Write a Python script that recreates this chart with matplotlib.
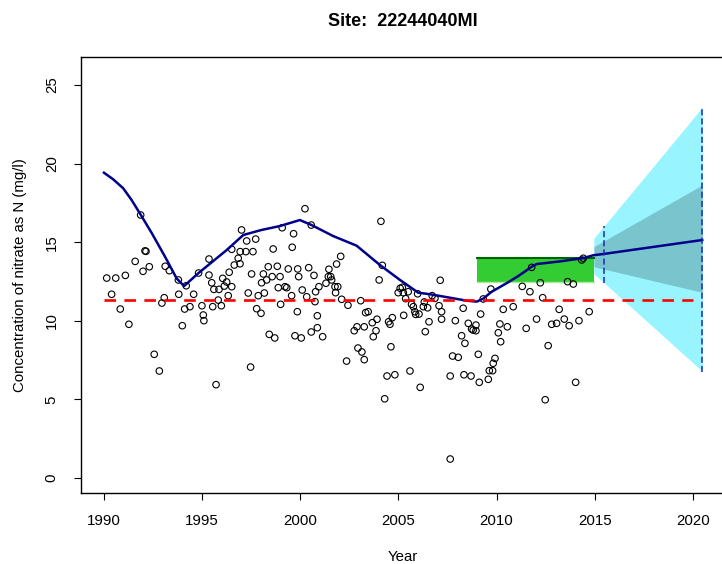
import matplotlib
matplotlib.use('Agg')
import matplotlib.pyplot as plt

plt.rcParams['font.family'] = ['Liberation Sans', 'DejaVu Sans']

site = '22244040MI'

# observed nitrate samples (year, mg/l)
obs_year = [
    1991.87, 1992.14, 1992.09, 1991.59, 1992.31, 1991.99, 1990.14, 1990.60, 1991.09, 1993.12,
    1993.33, 1993.79, 1994.19, 1994.82, 1990.39, 1993.07, 1992.95, 1993.81, 1994.57, 1990.83,
    1991.27, 1994.11, 1994.38, 1994.99, 1993.99, 1995.06, 1995.09, 1992.56, 1992.82,
    2000.24, 1997.01, 1997.27, 1997.73, 1999.08, 1999.66, 2000.56, 1995.35, 1996.51, 1996.94,
    1997.23, 1997.59, 1996.84, 1996.64, 1996.93, 1998.62, 1999.59, 1996.38, 1995.35, 1996.05,
    1995.49, 1996.25, 1995.60, 1995.86, 1996.13, 1996.51, 1997.52, 1998.12, 1998.37, 1998.83,
    1999.39, 1999.87, 2000.43, 1998.03, 1998.29, 1998.57, 1998.97, 1999.92, 2000.70, 1998.88,
    1999.22, 1999.31, 1999.56, 2000.10, 2000.33, 2000.78, 2000.95, 1996.33, 1997.35, 1997.86,
    1998.17, 1995.82, 1995.54, 1995.98, 1999.00, 2000.75, 1997.78, 1998.00, 1999.85, 2000.87,
    1998.42, 1998.70, 1999.73, 2000.05, 2000.56, 2000.87, 1997.47, 1995.71,
    2004.11, 2004.18, 2004.02, 2002.06, 2001.85, 2001.46, 2001.43, 2001.55, 2001.60, 2001.31,
    2001.77, 2001.91, 2001.80, 2002.11, 2003.08, 2002.43, 2001.14, 2003.33, 2003.46, 2003.91,
    2003.67, 2002.89, 2002.75, 2003.26, 2003.86, 2003.72, 2004.69, 2004.50, 2004.57, 2004.62,
    2002.94, 2003.14, 2003.26, 2002.36, 2004.42, 2004.82, 2005.59, 2006.11, 2004.30, 2005.09,
    2005.20, 2004.99, 2005.25, 2005.50, 2005.37, 2005.98, 2005.67, 2005.76, 2005.84, 2006.05,
    2005.88, 2005.27, 2006.32, 2006.27, 2006.49, 2006.56, 2006.37, 2006.72,
    2007.13, 2009.71, 2009.32, 2006.86, 2007.07, 2007.20, 2007.20, 2008.30, 2009.19, 2007.90,
    2008.56, 2008.95, 2008.73, 2008.81, 2008.95, 2008.22, 2008.39, 2007.76, 2008.05, 2009.07,
    2007.64, 2008.34, 2008.70, 2009.12, 2009.92, 2009.83, 2009.63, 2009.80, 2009.58, 2010.34,
    2010.85, 2010.17, 2010.55, 2010.09, 2010.21, 2011.31, 2011.70, 2012.23, 2012.35, 2011.79,
    2012.04, 2011.51, 2012.63, 2012.48, 2007.64,
    2014.42, 2014.34, 2013.62, 2013.91, 2013.19, 2014.72, 2013.45, 2014.20, 2012.81, 2013.06,
    2013.70, 2014.03,
]
obs_conc = [
    16.73, 14.42, 14.45, 13.78, 13.44, 13.15, 12.72, 12.72, 12.89, 13.47,
    13.19, 12.60, 12.23, 13.04, 11.69, 11.47, 11.13, 11.69, 11.69, 10.75,
    9.78, 10.75, 10.90, 10.96, 9.69, 10.37, 10.01, 7.87, 6.81,
    17.13, 15.78, 15.08, 15.20, 15.92, 15.54, 16.09, 13.93, 14.55, 14.40,
    14.40, 14.40, 13.98, 13.55, 13.63, 14.57, 14.68, 13.09, 12.91, 12.70,
    12.42, 12.47, 12.00, 12.00, 12.21, 12.17, 12.98, 12.98, 13.44, 13.47,
    13.30, 13.30, 13.38, 12.42, 12.60, 12.81, 12.81, 12.81, 12.89, 12.11,
    12.17, 12.11, 11.60, 11.96, 11.53, 11.85, 12.17, 11.60, 11.77, 11.60,
    11.77, 11.32, 10.90, 10.96, 11.05, 11.22, 10.77, 10.48, 10.58, 10.32,
    9.14, 8.91, 9.05, 8.91, 9.29, 9.56, 7.06, 5.94,
    16.33, 13.53, 12.60, 14.10, 13.61, 13.28, 12.81, 12.81, 12.60, 12.39,
    12.17, 12.17, 11.79, 11.37, 11.28, 10.99, 8.99, 10.52, 10.58, 10.10,
    9.88, 9.62, 9.37, 9.62, 9.37, 8.99, 10.20, 9.94, 9.78, 8.35,
    8.27, 8.02, 7.53, 7.44, 6.49, 6.57, 6.81, 5.77, 5.04, 12.07,
    12.13, 11.79, 11.79, 11.85, 11.41, 11.72, 11.05, 10.90, 10.58, 10.43,
    10.41, 10.35, 11.20, 10.90, 10.83, 9.94, 9.31, 11.60,
    12.58, 12.02, 11.39, 11.43, 10.96, 10.58, 10.10, 10.80, 10.43, 10.01,
    9.84, 9.73, 9.48, 9.41, 9.37, 9.05, 8.57, 7.76, 7.68, 7.87,
    6.49, 6.57, 6.49, 6.09, 7.61, 7.30, 6.83, 6.83, 6.28, 10.73,
    10.90, 9.80, 9.62, 9.24, 8.67, 12.19, 11.85, 12.42, 11.47, 13.40,
    10.11, 9.52, 8.42, 4.98, 1.21,
    13.98, 13.87, 12.49, 12.34, 10.73, 10.58, 10.11, 10.01, 9.78, 9.84,
    9.69, 6.09,
]

# smoothed trend
trend_year = [1990.00, 1990.47, 1990.98, 1991.41, 1991.88, 1992.43, 1993.11, 1993.70, 1994.08,
              1994.80, 1996.25, 1997.10, 1998.03, 1998.97, 1999.98, 2000.58, 2001.68, 2002.87,
              2004.06, 2005.08, 2006.01, 2006.61, 2007.63, 2008.48, 2008.99, 2009.32, 2009.75,
              2010.51, 2011.11, 2011.79, 2012.04, 2013.23, 2014.42, 2014.93, 2015.44, 2020.48]
trend_conc = [19.42, 19.00, 18.43, 17.68, 16.73, 15.59, 14.08, 12.70, 12.21,
              13.02, 14.50, 15.46, 15.78, 16.03, 16.41, 16.09, 15.39, 14.78,
              13.55, 12.60, 11.79, 11.69, 11.47, 11.28, 11.22, 11.41, 11.85,
              12.39, 12.85, 13.44, 13.61, 13.78, 13.99, 14.17, 14.25, 15.14]

# forecast bands
fc_year = [2014.96, 2020.48]
fc_outer_hi = [15.25, 23.58]
fc_outer_lo = [13.00, 6.80]
fc_inner_hi = [14.72, 18.64]
fc_inner_lo = [13.44, 11.81]

# interval markers
ci_year = [2015.50, 2020.48]
ci_hi = [16.03, 23.58]
ci_lo = [12.38, 6.75]

# recent period box
recent_year = [2008.99, 2014.96]
recent_lo = 12.49
recent_hi = 14.01

threshold = 11.32
threshold_year = [1990.0, 2020.02]

xticks = [1990, 1995, 2000, 2005, 2010, 2015, 2020]
yticks = [0, 5, 10, 15, 20, 25]

W, H = 722, 564
fig = plt.figure(figsize=(W / 100, H / 100), dpi=100)
ax = fig.add_axes([81 / W, 1 - 493.3 / H, (726 - 81) / W, (493.3 - 57) / H])

ax.fill_between(recent_year, recent_lo, recent_hi, color='#33cc33', lw=0, zorder=1)
ax.plot(recent_year, [recent_hi] * 2, color='#006400', lw=1.5, zorder=1.2)
ax.plot(recent_year, [recent_lo] * 2, color='#a8ec9c', lw=1.0, zorder=1.2)
ax.fill_between(fc_year, fc_outer_lo, fc_outer_hi, color='#98f5ff', lw=0, zorder=1)
ax.fill_between(fc_year, fc_inner_lo, fc_inner_hi, color='#7ac5cd', lw=0, zorder=1.1)

ax.scatter(obs_year, obs_conc, s=22, facecolors='none', edgecolors='black',
           linewidths=0.8, zorder=2)
ax.plot(trend_year, trend_conc, color='#00008b', lw=1.8, zorder=3)
for x, lo, hi in zip(ci_year, ci_lo, ci_hi):
    ax.plot([x, x], [lo, hi], color='#1c2cb0', lw=1.1, dashes=(4, 2), zorder=3.5)
ax.plot(threshold_year, [threshold] * 2, color='red', lw=1.9, dashes=(4.4, 3.15), zorder=4)

ax.set_xlim(1988.83, 2021.69)
ax.set_ylim(-0.97, 26.78)
ax.set_xticks(xticks)
ax.set_yticks(yticks)
ax.tick_params(direction='out', length=5, width=0.8, labelsize=10.8, colors='black')
ax.tick_params(axis='x', pad=10)
ax.tick_params(axis='y', labelrotation=90, pad=11)
plt.setp(ax.get_yticklabels(), va='center')
for s in ax.spines.values():
    s.set_linewidth(1.0)
    s.set_color('black')

fig.text(403 / W, 1 - 21 / H, 'Site:  ' + site, fontsize=13, fontweight='bold',
         ha='center', va='center')
fig.text(403 / W, 1 - 557 / H, 'Year', fontsize=10.8, ha='center', va='center')
fig.text(20 / W, 1 - 275 / H, 'Concentration of nitrate as N (mg/l)', fontsize=10.8,
         rotation=90, ha='center', va='center')

fig.savefig('out.png', dpi=100)
